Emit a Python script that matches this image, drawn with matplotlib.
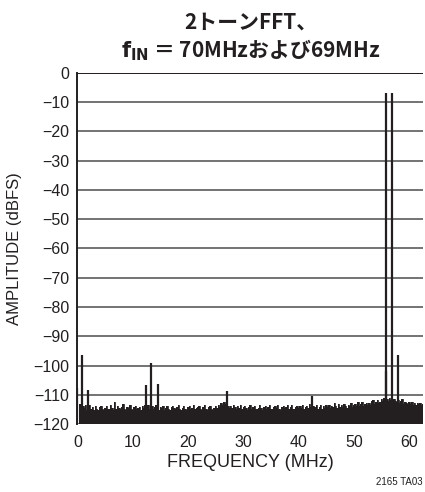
import numpy as np
import matplotlib
matplotlib.use("Agg")
import matplotlib.pyplot as plt

plt.rcParams['font.family'] = ['Liberation Sans Narrow', 'Liberation Sans', 'DejaVu Sans']
plt.rcParams['mathtext.fontset'] = 'custom'
plt.rcParams['mathtext.bf'] = 'Liberation Sans Narrow:bold'
plt.rcParams['mathtext.rm'] = 'Liberation Sans Narrow'

# ---------------- data ----------------
# noise floor, one value every 0.25 MHz from 0.25 to 62.5 MHz
noise_db = [
    -114.5, -113.2, -115.0, -113.8, -114.6, -113.5, -115.2, -114.0, -113.6, -114.8,
    -114.2, -115.1, -113.9, -114.7, -115.3, -114.1, -113.7, -114.9, -115.2, -114.4,
    -113.9, -114.8, -115.0, -113.4, -114.6, -115.1, -112.6, -114.9, -113.8, -114.5,
    -115.0, -114.2, -113.2, -114.7, -115.2, -114.0, -114.6, -113.6, -114.9, -115.1,
    -114.3, -113.8, -115.0, -114.5, -114.1, -115.2, -113.9, -114.6, -113.5, -114.4,
    -113.6, -114.8, -114.2, -113.9, -115.0, -114.3, -113.4, -114.7, -115.1, -114.0,
    -114.6, -113.7, -115.2, -114.4, -113.9, -114.9, -115.3, -114.1, -113.8, -114.6,
    -115.0, -114.3, -113.6, -114.8, -115.2, -114.5, -113.9, -114.7, -115.1, -114.2,
    -113.8, -114.9, -114.4, -113.5, -115.0, -114.6, -114.0, -113.7, -114.8, -115.2,
    -114.3, -113.6, -114.9, -115.1, -114.2, -113.9, -114.7, -115.3, -114.5, -113.8,
    -114.6, -113.4, -114.1, -112.9, -113.6, -112.4, -113.3, -114.2, -113.7, -114.5,
    -113.9, -114.6, -113.5, -114.3, -115.0, -113.8, -114.4, -113.6, -114.9, -114.1,
    -113.7, -114.5, -115.1, -114.0, -113.6, -114.7, -114.2, -113.9, -114.8, -115.0,
    -114.4, -113.5, -114.6, -115.2, -114.1, -113.8, -114.9, -114.3, -113.6, -114.7,
    -115.0, -114.2, -113.7, -114.5, -113.4, -114.8, -115.1, -114.0, -113.9, -114.6,
    -114.3, -113.6, -114.9, -114.1, -113.5, -114.7, -115.0, -114.2, -113.8, -114.5,
    -113.9, -114.6, -113.4, -114.8, -114.0, -113.7, -114.5, -113.2, -114.1, -114.6,
    -113.8, -114.3, -113.5, -114.9, -114.2, -113.6, -114.7, -113.9, -114.4, -113.5,
    -114.1, -113.4, -114.6, -113.8, -114.2, -112.8, -113.9, -114.5, -113.3, -114.0,
    -113.6, -114.3, -113.1, -113.9, -114.5, -113.4, -113.8, -112.9, -114.1, -113.5,
    -113.2, -113.9, -112.6, -113.7, -113.3, -112.4, -113.8, -113.1, -112.7, -113.5,
    -112.9, -113.4, -112.2, -111.6, -113.0, -112.5, -111.9, -112.8, -112.3, -111.4,
    -112.0, -111.2, -110.8, -111.5, -112.1, -111.0, -111.7, -112.4, -111.3, -112.0,
    -112.6, -111.8, -112.9, -112.2, -111.5, -113.0, -112.4, -112.7, -113.2, -112.5,
    -113.1, -112.6, -113.4, -112.8, -113.5, -112.9, -113.3, -112.7, -113.6, -113.0,
]
noise_freq = np.arange(1, len(noise_db) + 1) * 0.25

# spurs
spur_freq = [0.0, 0.9, 1.9, 12.4, 13.3, 14.5, 27.0, 42.4, 55.75, 57.95]
spur_db = [-107.5, -96.5, -108.5, -106.8, -99.0, -106.3, -108.7, -110.3, -102.0, -96.5]

# the two tones
tone_freq = [55.9, 57.0]
tone_db = [-7.0, -7.0]

yticks = list(range(0, -130, -10))
xticks = [0, 10, 20, 30, 40, 50, 60]
ink = '#231f20'
grid_c = '#4d4d4d'

# ---------------- figure ----------------
fig = plt.figure(figsize=(4.25, 4.92), dpi=100)
ax = fig.add_axes([0.182, 0.138, 0.813, 0.714])

for y in yticks:
    ax.axhline(y, color=grid_c, lw=1.1, zorder=1)
ax.axhline(0, color=ink, lw=1.4, zorder=1)

ax.fill_between(noise_freq, -120, noise_db, step='mid', color=ink, lw=0, zorder=2)
ax.step(noise_freq, noise_db, where='mid', color=ink, lw=0.6, zorder=2)
ax.vlines(spur_freq, -120, spur_db, color=ink, lw=1.6, zorder=3)
ax.vlines(tone_freq, -120, tone_db, color=ink, lw=1.6, zorder=3)

ax.set_xlim(0, 62.5)
ax.set_ylim(-120, 0)
ax.set_yticks(yticks)
ax.set_yticklabels(['0' if t == 0 else '\u2212%d' % -t for t in yticks])
ax.set_xticks(xticks)
ax.tick_params(length=0, labelsize=11.5, colors=ink)
ax.tick_params(axis='y', pad=6)
ax.tick_params(axis='x', pad=8)

for s in ['top', 'right', 'bottom']:
    ax.spines[s].set_visible(False)
ax.spines['left'].set_color(ink)
ax.spines['left'].set_linewidth(1.4)

ax.set_xlabel('FREQUENCY (MHz)', fontsize=13, color=ink, labelpad=3)
ax.set_ylabel('AMPLITUDE (dBFS)', fontsize=12, color=ink)
ax.yaxis.set_label_coords(-0.16, 0.5)

title_font = ['Noto Sans CJK JP', 'DejaVu Sans']
fig.text(0.59, 0.955, '2トーンFFT、', ha='center', va='center', fontsize=15,
         fontweight='bold', family=title_font, color=ink)
fig.text(0.59, 0.898, r'$\mathbf{f_{IN}}$ ＝ 70MHzおよび69MHz', ha='center', va='center',
         fontsize=15, fontweight='bold', family=title_font, color=ink)

fig.text(0.995, 0.02, '2165 TA03', ha='right', va='center', fontsize=7, color=ink)

fig.savefig('out.png', dpi=100)
